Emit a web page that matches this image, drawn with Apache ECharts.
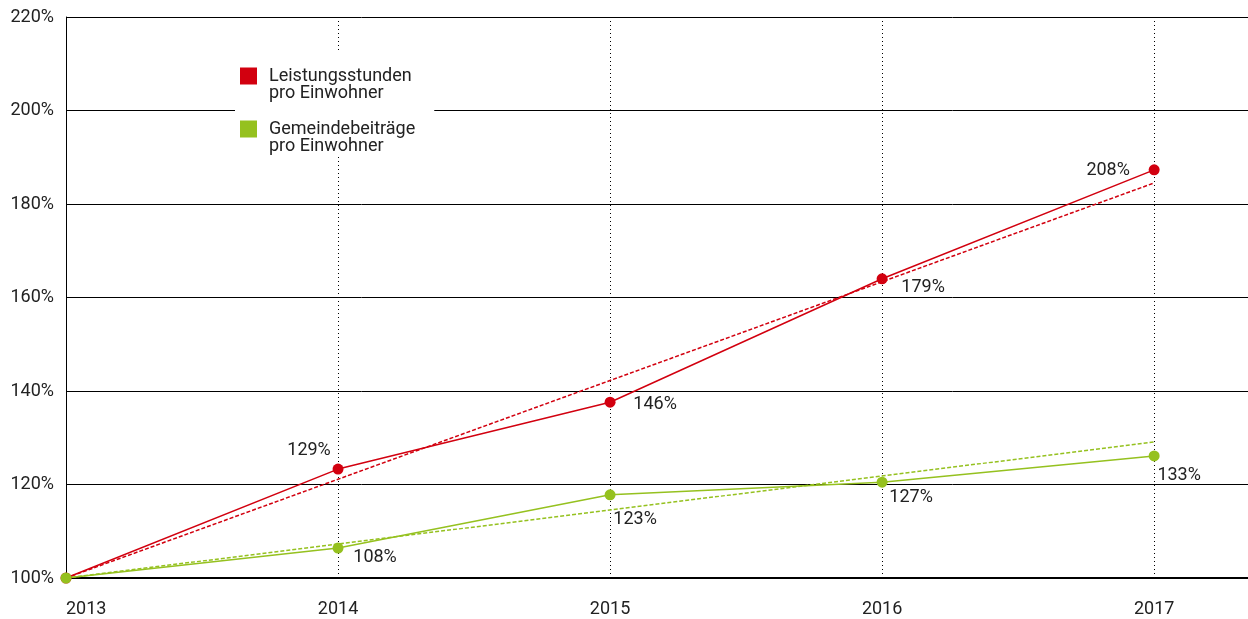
<!DOCTYPE html>
<html><head><meta charset="utf-8">
<script src="https://cdn.jsdelivr.net/npm/echarts@6/dist/echarts.min.js"></script>
<style>html,body{margin:0;padding:0;background:#fff}#c{width:1248px;height:619px}</style>
</head><body><div id="c"></div>
<script>
const years = [2013, 2014, 2015, 2016, 2017];
const leistungValues = [100, 123.3, 137.6, 164.0, 187.3];
const leistungLabels = ['', '129%', '146%', '179%', '208%'];
const beitragValues = [100, 106.4, 117.8, 120.5, 126.1];
const beitragLabels = ['', '108%', '123%', '127%', '133%'];
const leistungTrendYears = [2013, 2017];
const leistungTrendValues = [100, 184.5];
const beitragTrendYears = [2013, 2017];
const beitragTrendValues = [100, 129.1];
const seriesNames = ['Leistungsstunden\npro Einwohner', 'Gemeindebeiträge\npro Einwohner'];
const yMin = 100, yMax = 220, yStep = 20;

// styling (label offsets relative to point centre)
const leistungOffsets = [[0,0],[-29,-19],[45,2],[41,9],[-46,1]];
const beitragOffsets = [[0,0],[37,9],[25,25],[29,15],[25,20]];
const RED = '#d2000f', GREEN = '#95c11f', FONT = 'Roboto, "DejaVu Sans", sans-serif', TXT = '#222';

function pts(xs, vs, labels, offs) {
  return xs.map((x, i) => ({
    value: [x, vs[i]],
    label: labels ? { show: !!labels[i], formatter: labels[i] || '', offset: offs[i] } : undefined
  }));
}
const chart = echarts.init(document.getElementById('c'));
const lbl = { position: 'inside', color: TXT, fontSize: 18, fontFamily: FONT };
chart.setOption({
  animation: false,
  grid: { left: 66, right: 0, top: 17, bottom: 41, containLabel: false },
  legend: {
    orient: 'vertical', left: 235, top: 50, backgroundColor: '#fff',
    padding: [0, 19, 0, 5], itemWidth: 17, itemHeight: 17, itemGap: 1, icon: 'rect',
    formatter: name => '\u00a0\n' + name,
    textStyle: { fontSize: 18, lineHeight: 17, color: TXT, fontFamily: FONT, padding: [0, 0, 0, 7] },
    data: seriesNames
  },
  xAxis: {
    type: 'value', min: 2013, max: 2017.345, interval: 1,
    axisLine: { show: true, lineStyle: { color: '#000', width: 2 } },
    axisTick: { show: false },
    axisLabel: { formatter: v => String(v), showMaxLabel: false, alignMinLabel: 'left', margin: 22, fontSize: 18, color: TXT, fontFamily: FONT },
    splitLine: { show: true, showMinLine: false, showMaxLine: false, lineStyle: { type: [1, 3], color: '#000', width: 1 } }
  },
  yAxis: {
    type: 'value', min: yMin, max: yMax, interval: yStep,
    axisLine: { show: true, lineStyle: { color: '#000', width: 1 } },
    axisTick: { show: false },
    axisLabel: { formatter: '{value}%', margin: 12, fontSize: 18, color: TXT, fontFamily: FONT },
    splitLine: { show: true, lineStyle: { color: '#000', width: 1 } }
  },
  series: [
    { name: 'trend1', type: 'line', data: pts(leistungTrendYears, leistungTrendValues), symbol: 'none', silent: true,
      lineStyle: { color: RED, width: 1.5, type: [4, 2] }, z: 1 },
    { name: 'trend2', type: 'line', data: pts(beitragTrendYears, beitragTrendValues), symbol: 'none', silent: true,
      lineStyle: { color: GREEN, width: 1.5, type: [4, 2] }, z: 1 },
    { name: seriesNames[0], type: 'line', data: pts(years, leistungValues, leistungLabels, leistungOffsets),
      symbol: 'circle', symbolSize: 11, color: RED, lineStyle: { color: RED, width: 1.5 }, itemStyle: { color: RED },
      label: lbl, z: 3 },
    { name: seriesNames[1], type: 'line', data: pts(years, beitragValues, beitragLabels, beitragOffsets),
      symbol: 'circle', symbolSize: 11, color: GREEN, lineStyle: { color: GREEN, width: 1.5 }, itemStyle: { color: GREEN },
      label: lbl, z: 3 }
  ]
});
</script></body></html>
